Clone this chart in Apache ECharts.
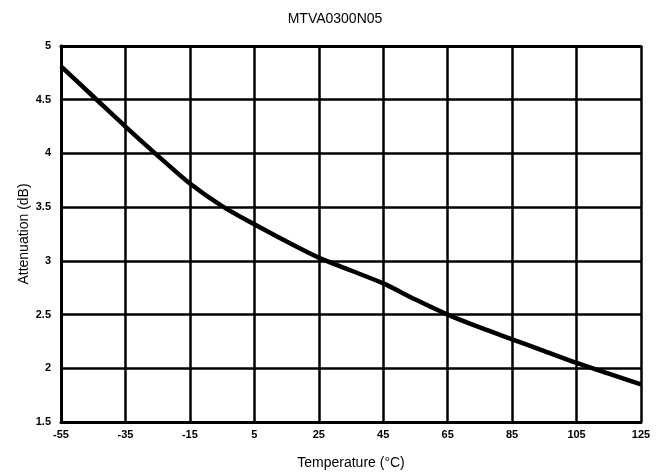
<!DOCTYPE html>
<html>
<head>
<meta charset="utf-8">
<script src="https://cdn.jsdelivr.net/npm/echarts@6/dist/echarts.min.js"></script>
<style>html,body{margin:0;padding:0;background:#fff}#c{width:664px;height:472px}</style>
</head>
<body>
<div id="c"></div>
<script>
const title = 'MTVA0300N05';
const temperatures = [-55, -45, -35, -25, -15, -5, 5, 15, 25, 35, 45, 55, 65, 75, 85, 95, 105, 115, 125];
const attenuation = [4.81, 4.53, 4.25, 3.98, 3.72, 3.51, 3.34, 3.18, 3.03, 2.91, 2.79, 2.64, 2.50, 2.38, 2.27, 2.16, 2.05, 1.95, 1.85];
const xMin = -55, xMax = 125, xStep = 20;
const yMin = 1.5, yMax = 5, yStep = 0.5;

const font = 'Liberation Sans, Arial, sans-serif';
const chart = echarts.init(document.getElementById('c'));
const borderAxis = {axisLine: {show: true, lineStyle: {color: '#000', width: 3}}, axisTick: {show: false}, axisLabel: {show: false}, splitLine: {show: false}};
chart.setOption({
  animation: false,
  backgroundColor: '#fff',
  title: {text: title, left: 330, top: 7, textAlign: 'center',
    textStyle: {fontFamily: font, fontSize: 14, fontWeight: 'normal', color: '#000'}},
  grid: {left: 61, right: 23, top: 46, bottom: 50, containLabel: false, outerBoundsMode: 'none'},
  xAxis: [{
    type: 'value', min: 0, max: xMax - xMin, interval: xStep,
    name: 'Temperature (°C)', nameLocation: 'middle', nameGap: 34,
    nameTextStyle: {fontFamily: font, fontSize: 14, color: '#000'},
    axisLine: {lineStyle: {color: '#000', width: 3}},
    axisTick: {show: false},
    axisLabel: {fontFamily: font, fontSize: 11, fontWeight: 'bold', color: '#000', margin: 7,
      formatter: v => String(v + xMin)},
    splitLine: {lineStyle: {color: '#000', width: 2.5}}
  }, Object.assign({type: 'value', position: 'top', min: 0, max: xMax - xMin}, borderAxis)],
  yAxis: [{
    type: 'value', min: yMin, max: yMax, interval: yStep,
    name: 'Attenuation (dB)', nameLocation: 'middle', nameGap: 30, nameRotate: 90,
    nameMoveOverlap: false,
    nameTextStyle: {fontFamily: font, fontSize: 14, color: '#000'},
    axisLine: {show: true, lineStyle: {color: '#000', width: 3}},
    axisTick: {show: false},
    axisLabel: {fontFamily: font, fontSize: 11, fontWeight: 'bold', color: '#000', margin: 10},
    splitLine: {lineStyle: {color: '#000', width: 2.5}}
  }, Object.assign({type: 'value', position: 'right', min: yMin, max: yMax}, borderAxis)],
  series: [{
    type: 'line', smooth: 0.3, symbol: 'none',
    lineStyle: {color: '#000', width: 4.5},
    data: temperatures.map((t, i) => [t - xMin, attenuation[i]])
  }]
});
</script>
</body>
</html>
